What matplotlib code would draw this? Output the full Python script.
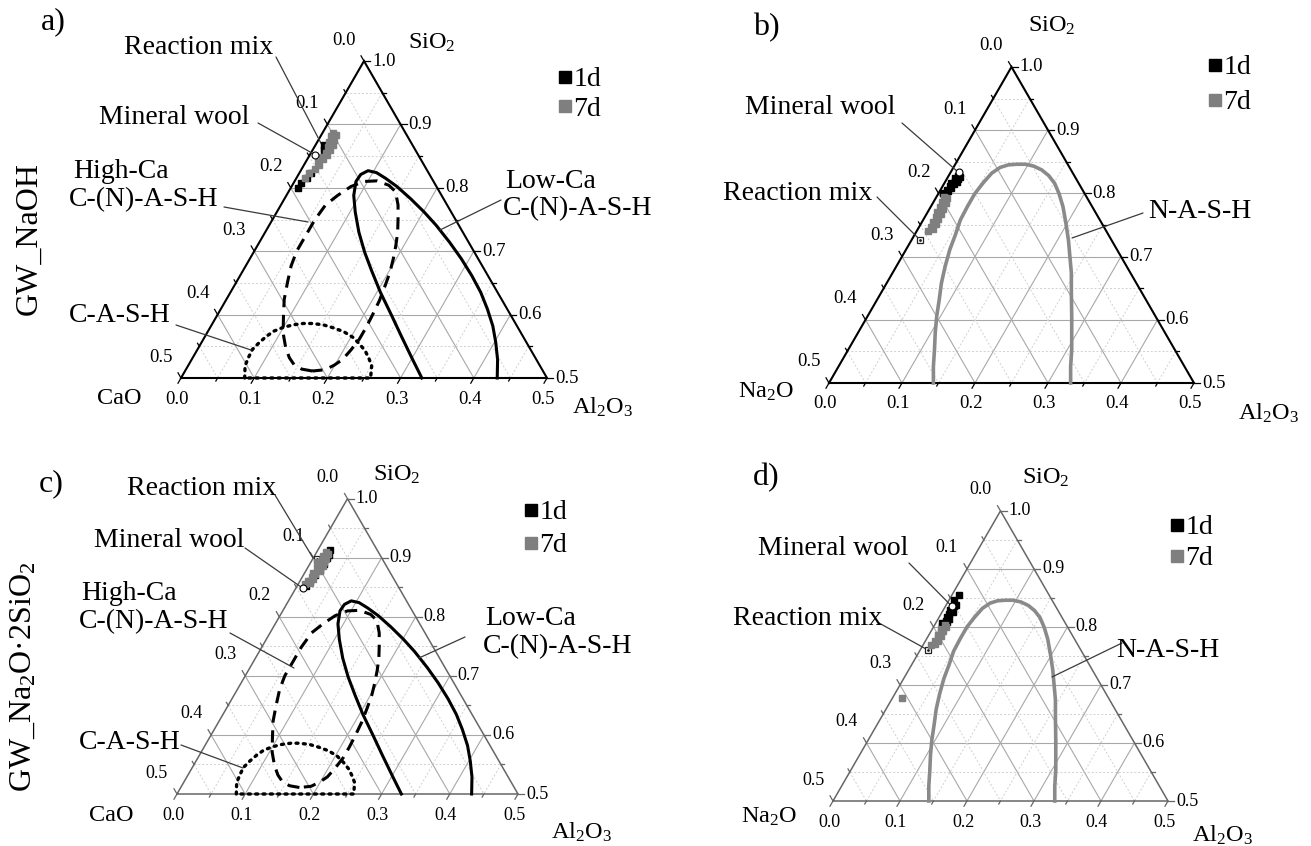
"""
Ternary diagrams (SiO2 - CaO/Na2O - Al2O3), four panels a-d
"""
import numpy as np
import matplotlib.pyplot as plt

plt.rcParams['font.family'] = ['Liberation Serif', 'DejaVu Serif']
plt.rcParams['mathtext.fontset'] = 'custom'
plt.rcParams['mathtext.rm'] = 'Liberation Serif'
plt.rcParams['mathtext.it'] = 'Liberation Serif:italic'

# ---- data: SiO2 and Al2O3 fractions (CaO / Na2O is the rest) ----
a_1d_sio2 = [0.800, 0.807, 0.815, 0.823, 0.860, 0.868]
a_1d_al = [0.010, 0.011, 0.014, 0.016, 0.016, 0.012]
a_7d_sio2 = [0.887, 0.881, 0.873, 0.865, 0.855, 0.849, 0.841, 0.824, 0.815,
             0.884, 0.876, 0.868, 0.860, 0.852, 0.845, 0.836, 0.830]
a_7d_al = [0.014, 0.015, 0.016, 0.018, 0.020, 0.018, 0.017, 0.013, 0.012,
           0.020, 0.021, 0.023, 0.024, 0.023, 0.022, 0.020, 0.018]
a_wool = (0.852, 0.007)
a_mix = (0.861, 0.015)

b_1d_sio2 = [0.800, 0.806, 0.811, 0.816, 0.820, 0.824, 0.828, 0.814, 0.808,
             0.818, 0.822, 0.826, 0.803]
b_1d_al = [0.006, 0.008, 0.010, 0.009, 0.012, 0.011, 0.013, 0.014, 0.013,
           0.016, 0.016, 0.017, 0.011]
b_7d_sio2 = [0.795, 0.787, 0.779, 0.771, 0.763, 0.755, 0.747, 0.740, 0.783, 0.767,
             0.792, 0.784, 0.776, 0.768, 0.760, 0.752, 0.744]
b_7d_al = [0.010, 0.011, 0.013, 0.013, 0.015, 0.015, 0.016, 0.016, 0.015, 0.017,
           0.015, 0.018, 0.018, 0.020, 0.019, 0.020, 0.020]
b_wool = (0.833, 0.011)
b_mix = (0.726, 0.012)

c_1d_sio2 = [0.913, 0.905, 0.899, 0.890, 0.880, 0.870, 0.860, 0.852]
c_1d_al = [0.018, 0.021, 0.020, 0.021, 0.019, 0.017, 0.015, 0.013]
c_7d_sio2 = [0.910, 0.903, 0.896, 0.889, 0.882, 0.875, 0.868, 0.861, 0.855, 0.893,
             0.884, 0.872, 0.906, 0.898, 0.892, 0.886, 0.878, 0.864, 0.858]
c_7d_al = [0.014, 0.012, 0.015, 0.013, 0.015, 0.012, 0.014, 0.012, 0.010, 0.009,
           0.018, 0.017, 0.018, 0.019, 0.019, 0.021, 0.020, 0.018, 0.016]
c_wool = (0.848, 0.011)
c_mix = (0.898, 0.006)

d_1d_sio2 = [0.855, 0.846, 0.836, 0.829, 0.823, 0.817, 0.811, 0.806, 0.801,
             0.838, 0.826, 0.814, 0.808]
d_1d_al = [0.010, 0.008, 0.012, 0.010, 0.012, 0.011, 0.013, 0.010, 0.012,
           0.015, 0.016, 0.016, 0.016]
d_7d_sio2 = [0.803, 0.797, 0.791, 0.786, 0.781, 0.776, 0.771, 0.678,
             0.800, 0.793, 0.784, 0.776, 0.768]
d_7d_al = [0.015, 0.012, 0.015, 0.013, 0.016, 0.014, 0.016, 0.014,
           0.019, 0.018, 0.019, 0.019, 0.012]
d_wool = (0.836, 0.009)
d_mix = (0.760, 0.012)

# gel composition regions (CaO systems)
lowca_sio2 = [0.500, 0.529, 0.566, 0.598, 0.635, 0.669, 0.698, 0.730, 0.762, 0.788,
              0.810, 0.821, 0.827, 0.824, 0.815, 0.802, 0.783, 0.762, 0.741, 0.714,
              0.688, 0.661, 0.635, 0.609, 0.582, 0.556, 0.529, 0.500]
lowca_al = [0.329, 0.302, 0.268, 0.239, 0.205, 0.176, 0.152, 0.128, 0.107, 0.092,
            0.084, 0.085, 0.092, 0.105, 0.122, 0.144, 0.172, 0.201, 0.228, 0.260,
            0.289, 0.317, 0.342, 0.364, 0.385, 0.402, 0.418, 0.432]
highca_sio2 = [0.511, 0.514, 0.521, 0.532, 0.548, 0.571, 0.598, 0.624, 0.651, 0.677,
               0.700, 0.720, 0.749, 0.773, 0.788, 0.802, 0.810, 0.811, 0.804, 0.794,
               0.773, 0.751, 0.730, 0.709, 0.688, 0.667, 0.646, 0.622, 0.598, 0.579,
               0.561, 0.544, 0.529, 0.520, 0.513, 0.511]
highca_al = [0.174, 0.158, 0.144, 0.132, 0.119, 0.104, 0.091, 0.079, 0.070, 0.062,
             0.058, 0.058, 0.058, 0.061, 0.070, 0.081, 0.095, 0.112, 0.132, 0.146,
             0.160, 0.171, 0.181, 0.189, 0.196, 0.202, 0.206, 0.210, 0.212, 0.213,
             0.213, 0.210, 0.206, 0.199, 0.190, 0.174]
cash_sio2 = [0.500, 0.519, 0.532, 0.545, 0.556, 0.566, 0.574, 0.580, 0.584, 0.586,
             0.586, 0.584, 0.579, 0.573, 0.564, 0.553, 0.542, 0.530, 0.519, 0.500, 0.500]
cash_al = [0.087, 0.078, 0.076, 0.075, 0.079, 0.084, 0.090, 0.100, 0.112, 0.124,
           0.136, 0.152, 0.169, 0.186, 0.203, 0.218, 0.231, 0.242, 0.251, 0.259, 0.087]

# N-A-S-H region (Na2O systems)
nash_sio2 = [0.500, 0.526, 0.553, 0.579, 0.605, 0.632, 0.658, 0.684, 0.711, 0.734,
             0.758, 0.780, 0.800, 0.817, 0.832, 0.841, 0.845, 0.846, 0.846, 0.843,
             0.837, 0.828, 0.816, 0.800, 0.779, 0.753, 0.726, 0.700, 0.674, 0.642,
             0.605, 0.579, 0.553, 0.526, 0.500]
nash_al = [0.143, 0.130, 0.118, 0.106, 0.095, 0.085, 0.075, 0.067, 0.060, 0.056,
           0.051, 0.050, 0.050, 0.053, 0.057, 0.064, 0.073, 0.084, 0.096, 0.109,
           0.123, 0.137, 0.151, 0.165, 0.181, 0.198, 0.215, 0.230, 0.245, 0.261,
           0.280, 0.293, 0.306, 0.318, 0.331]

W, H = 1311, 846
fig = plt.figure(figsize=(W / 100, H / 100), dpi=100)


def tern(si, al):
    si = np.asarray(si, float)
    al = np.asarray(al, float)
    return al + (si - 0.5) / 2, (si - 0.5) * np.sqrt(3) / 2


def pt(si, al):
    x, y = tern(si, al)
    return float(x), float(y)


def panel(bx, by, w, edge, elw, tick_fs):
    s = 2.0 * w
    ax = fig.add_axes([0, 0, 1, 1])
    ax.set_xlim(-bx / s, (W - bx) / s)
    ax.set_ylim((by - H) / s, by / s)
    ax.axis('off')
    ax.patch.set_alpha(0)

    for k in range(1, 10):
        v = k * 0.05
        if k % 2 == 0:
            kw = dict(color='#a8a8a8', lw=0.8, ls='-')
        else:
            kw = dict(color='#d0d0d0', lw=0.7, ls=(0, (2, 2)))
        ax.plot(*tern([0.5 + v, 0.5 + v], [0, 0.5 - v]), **kw)
        ax.plot(*tern([1 - v, 0.5], [0, 0.5 - v]), **kw)
        ax.plot(*tern([1 - v, 0.5], [v, v]), **kw)

    ax.plot(*tern([0.5, 0.5, 1.0, 0.5], [0, 0.5, 0, 0]), color=edge, lw=elw,
            solid_joinstyle='miter')

    # ticks
    for k in range(11):
        v = k * 0.05
        L = (6 if k % 2 == 0 else 3.5) / s
        x, y = pt(1 - v, 0)
        ax.plot([x, x - 0.5 * L], [y, y + 0.866 * L], color=edge, lw=0.9)
        x, y = pt(1 - v, v)
        ax.plot([x, x + L], [y, y], color=edge, lw=0.9)
        x, y = pt(0.5, v)
        ax.plot([x, x - 0.5 * L], [y, y - 0.866 * L], color=edge, lw=0.9)

    for k in range(6):
        v = k * 0.1
        ax.annotate(f'{v:.1f}', xy=pt(1 - v, 0), xytext=(-20, 21), textcoords='offset pixels',
                    ha='center', va='center', fontsize=tick_fs)
        ax.annotate(f'{1 - v:.1f}', xy=pt(1 - v, v), xytext=(8, 0), textcoords='offset pixels',
                    ha='left', va='center', fontsize=tick_fs)
        ax.annotate(f'{v:.1f}', xy=pt(0.5, v), xytext=(-4, -21), textcoords='offset pixels',
                    ha='center', va='center', fontsize=tick_fs)
    return ax


def ftext(s, x, y, ha='center', size=20, **kw):
    fig.text(x / W, 1 - y / H, s, ha=ha, va='center', fontsize=size, **kw)


def leader(ax, p_from, xy, data=False):
    ax.annotate('', xy=xy, xycoords='data' if data else 'figure pixels',
                xytext=(p_from[0], H - p_from[1]), textcoords='figure pixels',
                arrowprops=dict(arrowstyle='-', color='#3a3a3a', lw=0.9,
                                shrinkA=0, shrinkB=0))


def samples(ax, s1, a1, s7, a7, wool, mix):
    ax.plot(*tern(*mix), 's', ms=5, mfc='white', mec='#222222', mew=0.9, zorder=4)
    ax.plot(*tern(*mix), '.', ms=2, color='#222222', zorder=4)
    h1, = ax.plot(*tern(s1, a1), 's', ms=4.5, color='black', label='1d', zorder=5)
    h7, = ax.plot(*tern(s7, a7), 's', ms=4.5, color='#7f7f7f', label='7d', zorder=5)
    ax.plot(*tern(*wool), 'o', ms=5, mfc='white', mec='black', mew=0.8, zorder=6)
    return h1, h7


def legend(ax, handles, x, y, spacing):
    ax.legend(handles=handles, loc='upper left', bbox_to_anchor=(x / W, 1 - y / H),
              bbox_transform=fig.transFigure, frameon=False, fontsize=20,
              handlelength=0.4, handletextpad=0.12, labelspacing=spacing,
              borderpad=0, borderaxespad=0, markerscale=1.8)


def cao_regions(ax):
    ax.plot(*tern(lowca_sio2, lowca_al), color='black', lw=2.2)
    ax.plot(*tern(highca_sio2, highca_al), color='black', lw=2.2, ls=(0, (4, 2.5)))
    ax.plot(*tern(cash_sio2, cash_al), color='black', lw=2.4, ls=(0, (0.6, 1.6)),
            dash_capstyle='round')


# ---- a) ----
ax = panel(181, 378, 366, 'black', 1.5, 13.5)
cao_regions(ax)
h = samples(ax, a_1d_sio2, a_1d_al, a_7d_sio2, a_7d_al, a_wool, a_mix)
legend(ax, h, 559, 67, 0.13)
leader(ax, (276, 57), pt(*a_mix), data=True)
leader(ax, (258, 123), (312, H - 153))
leader(ax, (224, 207), (308, H - 222))
leader(ax, (176, 325), (251, H - 350))
leader(ax, (501, 200), (440, H - 230))
ftext('a)', 53, 22, size=23)
ftext('Reaction mix', 199, 47)
ftext('Mineral wool', 174, 117)
ftext('High-Ca', 73, 171, ha='left')
ftext('C-(N)-A-S-H', 69, 200, ha='left')
ftext('C-A-S-H', 69, 315, ha='left')
ftext('Low-Ca', 505, 182, ha='left')
ftext('C-(N)-A-S-H', 503, 209, ha='left')
ftext('SiO$_2$', 432, 43, size=17.5)
ftext('CaO', 119, 398, size=17.5)
ftext('Al$_2$O$_3$', 602, 407, size=17.5)
ftext('GW_NaOH', 29, 238, size=23, rotation=90)

# ---- b) ----
ax = panel(829, 383, 365, 'black', 1.5, 13.5)
ax.plot(*tern(nash_sio2, nash_al), color='#8a8a8a', lw=2.6)
h = samples(ax, b_1d_sio2, b_1d_al, b_7d_sio2, b_7d_al, b_wool, b_mix)
legend(ax, h, 1209, 55, 0.34)
leader(ax, (902, 123), pt(*b_wool), data=True)
leader(ax, (877, 197), pt(*b_mix), data=True)
leader(ax, (1143, 213), (1072, H - 238))
ftext('b)', 766, 28, size=23)
ftext('SiO$_2$', 1052, 26, size=17.5)
ftext('Mineral wool', 820, 108)
ftext('Reaction mix', 798, 193)
ftext('N-A-S-H', 1200, 212)
ftext('Na$_2$O', 766, 392, size=17.5)
ftext('Al$_2$O$_3$', 1268, 413, size=17.5)

# ---- c) ----
ax = panel(177, 794, 341, '#666666', 1.1, 13)
cao_regions(ax)
h = samples(ax, c_1d_sio2, c_1d_al, c_7d_sio2, c_7d_al, c_wool, c_mix)
legend(ax, h, 525, 500, 0.27)
leader(ax, (275, 495), (313, H - 558))
leader(ax, (245, 548), pt(*c_wool), data=True)
leader(ax, (230, 633), (294, H - 668))
leader(ax, (181, 745), (243, H - 768))
leader(ax, (465, 637), (419, H - 658))
ftext('c)', 51, 484, size=23)
ftext('Reaction mix', 202, 488)
ftext('SiO$_2$', 397, 475, size=17.5)
ftext('Mineral wool', 169, 540)
ftext('High-Ca', 81, 593, ha='left')
ftext('C-(N)-A-S-H', 79, 622, ha='left')
ftext('C-A-S-H', 79, 742, ha='left')
ftext('Low-Ca', 485, 618, ha='left')
ftext('C-(N)-A-S-H', 483, 647, ha='left')
ftext('CaO', 111, 815, size=17.5)
ftext('Al$_2$O$_3$', 581, 832, size=17.5)
ftext('GW_Na$_2$O·2SiO$_2$', 23, 677, size=23, rotation=90)

# ---- d) ----
ax = panel(833, 801, 335, '#666666', 1.1, 13)
ax.plot(*tern(nash_sio2, nash_al), color='#8a8a8a', lw=2.6)
h = samples(ax, d_1d_sio2, d_1d_al, d_7d_sio2, d_7d_al, d_wool, d_mix)
legend(ax, h, 1171, 515, 0.2)
leader(ax, (909, 563), pt(*d_wool), data=True)
leader(ax, (879, 623), pt(*d_mix), data=True)
leader(ax, (1122, 643), (1052, H - 677))
ftext('d)', 766, 478, size=23)
ftext('SiO$_2$', 1046, 478, size=17.5)
ftext('Mineral wool', 833, 548)
ftext('Reaction mix', 808, 618)
ftext('N-A-S-H', 1168, 650)
ftext('Na$_2$O', 769, 817, size=17.5)
ftext('Al$_2$O$_3$', 1222, 835, size=17.5)

plt.savefig('out.png', dpi=100)
